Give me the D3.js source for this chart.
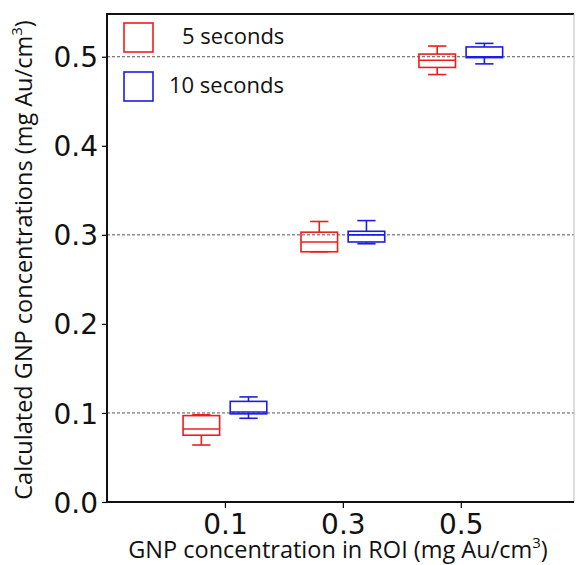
<!DOCTYPE html>
<html>
<head>
  <meta charset="utf-8">
  <title>GNP concentrations</title>
  <style>
    body { margin: 0; background: #fff; }
    .tick text { font-family: "DejaVu Sans"; font-size: 28px; fill: #111; }
    .label { font-family: "Open Sans"; fill: #111; }
  </style>
</head>
<body>
  <script src="https://cdn.jsdelivr.net/npm/d3@7/dist/d3.min.js"></script>
  <script>
    // data: [min, q1, median, q3, max]
    var categories = ["0.1", "0.3", "0.5"];
    var seriesNames = ["5 seconds", "10 seconds"];
    var seriesColors = ["#f01c1c", "#1c1ce6"];
    var box5s = [
      [0.064, 0.075, 0.082, 0.097, 0.098],
      [0.281, 0.281, 0.292, 0.303, 0.315],
      [0.480, 0.488, 0.496, 0.503, 0.512]
    ];
    var box10s = [
      [0.094, 0.099, 0.101, 0.113, 0.118],
      [0.290, 0.292, 0.300, 0.304, 0.316],
      [0.492, 0.499, 0.500, 0.511, 0.515]
    ];
    var yTicks = [0.0, 0.1, 0.2, 0.3, 0.4, 0.5];
    var gridValues = [0.1, 0.3, 0.5];

    var W = 576, H = 565;
    var plotLeft = 107, plotRight = 574, plotTop = 14, plotBottom = 502;

    var svg = d3.select("body").append("svg")
      .attr("width", W).attr("height", H);

    var x = d3.scaleLinear().domain([0, 3.96]).range([plotLeft, plotRight]);
    var y = d3.scaleLinear().domain([0, 0.548]).range([plotBottom, plotTop]);

    // grid lines
    svg.append("g").selectAll("line")
      .data(gridValues)
      .join("line")
      .attr("x1", plotLeft).attr("x2", plotRight)
      .attr("y1", d => y(d)).attr("y2", d => y(d))
      .attr("stroke", "#555")
      .attr("stroke-width", 1)
      .attr("stroke-dasharray", "3,2");

    // boxes
    var offsets = [-0.2, 0.2];
    var boxW = 0.31;
    [box5s, box10s].forEach(function (data, s) {
      var g = svg.append("g")
        .attr("stroke", seriesColors[s])
        .attr("stroke-width", 1.6)
        .attr("fill", "none");
      data.forEach(function (b, i) {
        var cx = i + 1 + offsets[s];
        var x0 = x(cx - boxW / 2), x1 = x(cx + boxW / 2);
        var c0 = x(cx - boxW / 4), c1 = x(cx + boxW / 4);
        g.append("rect")
          .attr("x", x0).attr("y", y(b[3]))
          .attr("width", x1 - x0).attr("height", y(b[1]) - y(b[3]));
        g.append("line")
          .attr("x1", x0).attr("x2", x1)
          .attr("y1", y(b[2])).attr("y2", y(b[2]));
        // whiskers
        g.append("line")
          .attr("x1", x(cx)).attr("x2", x(cx))
          .attr("y1", y(b[3])).attr("y2", y(b[4]));
        g.append("line")
          .attr("x1", x(cx)).attr("x2", x(cx))
          .attr("y1", y(b[1])).attr("y2", y(b[0]));
        // caps
        [b[0], b[4]].forEach(function (v) {
          g.append("line")
            .attr("x1", c0).attr("x2", c1)
            .attr("y1", y(v)).attr("y2", y(v));
        });
      });
    });

    // axes
    var yAxis = d3.axisLeft(y).tickValues(yTicks)
      .tickFormat(d3.format(".1f")).tickSize(5).tickPadding(4);
    svg.append("g")
      .attr("transform", "translate(" + plotLeft + ",0)")
      .call(yAxis)
      .call(g => g.select(".domain").remove())
      .call(g => g.selectAll(".tick line").attr("stroke-width", 1.2))
      .call(g => g.selectAll(".tick text").attr("dy", "0.36em"));

    var xAxis = d3.axisBottom(x).tickValues([1, 2, 3])
      .tickFormat((d, i) => categories[i]).tickSize(6).tickPadding(6);
    svg.append("g")
      .attr("transform", "translate(0," + plotBottom + ")")
      .call(xAxis)
      .call(g => g.select(".domain").remove())
      .call(g => g.selectAll(".tick line").attr("stroke-width", 1.2));

    // frame
    svg.append("line").attr("x1", plotLeft).attr("x2", plotRight)
      .attr("y1", plotTop).attr("y2", plotTop)
      .attr("stroke", "#111").attr("stroke-width", 1.8);
    svg.append("line").attr("x1", plotRight).attr("x2", plotRight)
      .attr("y1", plotTop).attr("y2", plotBottom)
      .attr("stroke", "#bbb").attr("stroke-width", 1);
    svg.append("line").attr("x1", plotLeft).attr("x2", plotLeft)
      .attr("y1", plotTop - 1).attr("y2", plotBottom + 1)
      .attr("stroke", "#111").attr("stroke-width", 2);
    svg.append("line").attr("x1", plotLeft - 1).attr("x2", plotRight)
      .attr("y1", plotBottom).attr("y2", plotBottom)
      .attr("stroke", "#111").attr("stroke-width", 2.2);

    // legend
    var legend = svg.append("g");
    var legendY = [23, 72];
    var legendTextX = [182, 169];
    seriesNames.forEach(function (name, i) {
      legend.append("rect")
        .attr("x", 124).attr("y", legendY[i])
        .attr("width", 29).attr("height", 29)
        .attr("fill", "none")
        .attr("stroke", seriesColors[i])
        .attr("stroke-width", 1.6);
      legend.append("text")
        .attr("class", "label")
        .attr("x", legendTextX[i]).attr("y", legendY[i] + 21)
        .attr("font-size", 22)
        .text(name);
    });

    // axis titles
    var xt = svg.append("text")
      .attr("class", "label")
      .attr("x", 338).attr("y", 558)
      .attr("text-anchor", "middle")
      .attr("font-size", 23.5);
    xt.append("tspan").text("GNP concentration in ROI (mg Au/cm");
    xt.append("tspan").attr("baseline-shift", "super").attr("font-size", 15).text("3");
    xt.append("tspan").text(")");

    var yt = svg.append("text")
      .attr("class", "label")
      .attr("transform", "translate(32,260) rotate(-90)")
      .attr("text-anchor", "middle")
      .attr("font-size", 23.5);
    yt.append("tspan").text("Calculated GNP concentrations (mg Au/cm");
    yt.append("tspan").attr("baseline-shift", "super").attr("font-size", 15).text("3");
    yt.append("tspan").text(")");
  </script>
</body>
</html>
